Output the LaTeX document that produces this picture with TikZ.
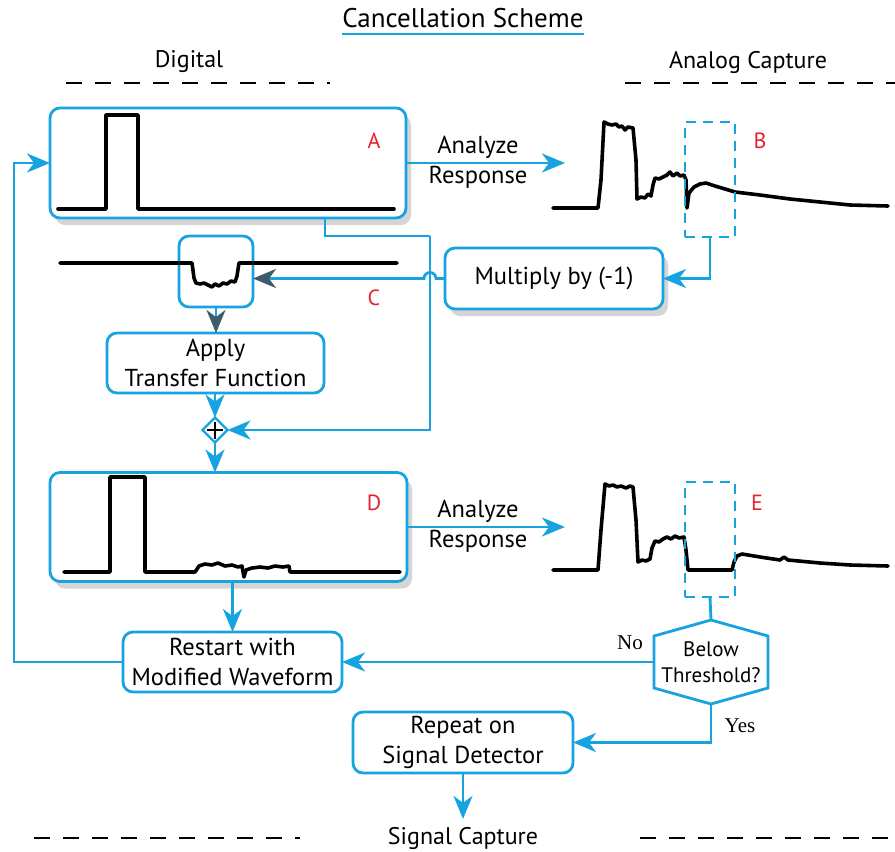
\documentclass[tikz,border=0pt]{standalone}
\usepackage{fontspec}
\setmainfont{PT Sans}
\newfontfamily\notefont{Liberation Serif}
\usetikzlibrary{arrows.meta,shapes.geometric,shadows,calc}
\definecolor{flow}{RGB}{22,163,224}
\definecolor{tag}{RGB}{232,32,44}
\definecolor{darktip}{RGB}{62,92,108}

\begin{document}
\begin{tikzpicture}[x=1pt,y=-1pt,
  every node/.style={inner sep=0pt, outer sep=0pt},
  txt/.style={font=\fontsize{24.5}{30}\selectfont, align=center},
  card/.style={draw=flow, line width=2.8pt, rounded corners=10pt, fill=white},
  shade/.style={drop shadow={opacity=0.33, shadow xshift=5pt, shadow yshift=-7pt}},
  link/.style={draw=flow, line width=2.8pt},
  go/.style={link, -{Stealth[length=23pt,width=19pt,inset=7pt]}},
  godark/.style={link, -{Stealth[length=23pt,width=19pt,inset=7pt,color=darktip]}},
  window/.style={draw=flow, line width=2.4pt, dash pattern=on 10pt off 7pt},
  sep/.style={draw=black, line width=2.2pt, dash pattern=on 16pt off 13pt},
  wave/.style={draw=black, line width=3.6pt, line join=round, line cap=round},
  letter/.style={font=\fontsize{22}{24}\selectfont, text=tag},
  note/.style={font=\notefont\fontsize{21}{22}\selectfont},
]
\useasboundingbox (0,0) rectangle (895,852);

% headings and section separators
\node[font=\fontsize{27}{30}\selectfont] (title) at (463,18) {Cancellation Scheme};
\draw[flow, line width=2.2pt] (342,34) -- (584,34);
\node[font=\fontsize{24}{26}\selectfont] (digital) at (189,62) {Digital};
\node[font=\fontsize{24}{26}\selectfont] (analog) at (748,62) {Analog Capture};
\draw[sep] (66,83) -- (330,83);
\draw[sep] (625,83) -- (895,83);
\node[font=\fontsize{24}{26}\selectfont] (cap) at (463,838) {Signal Capture};
\draw[sep] (34,838) -- (300,838);
\draw[sep] (640,838) -- (895,838);

% digital waveform boxes
\node[card, shade, minimum width=356, minimum height=110] (A) at (228,163) {};
\node[card, shade, minimum width=357, minimum height=109] (D) at (228.5,527) {};
\node[letter] (labA) at (374,141) {A};
\node[letter] (labD) at (374,503) {D};

\draw[wave] (58,209) -- (106,209) -- (106,115) -- (138,115) -- (138,209) -- (394,209);
\draw[wave] (64,572) -- (110,572) -- (110,477) -- (145,477) -- (145,572) -- (195,572)
  -- (199,566) -- (205,564) -- (212,565) -- (218,563) -- (225,566) -- (232,565)
  -- (238,567) -- (242,566) -- (244,577) -- (246,570) -- (252,568) -- (260,567)
  -- (268,568) -- (275,566) -- (283,567) -- (289,566) -- (290,572) -- (400,572);

% correction path
\node[card, shade, minimum width=218, minimum height=61] (mul) at (554,278.5) {};
\node[txt] (multxt) at (mul) {Multiply by (-1)};
\node[card, minimum width=74, minimum height=71] (cbox) at (216,271.5) {};
\node[letter] (labC) at (374,298) {C};
\draw[wave] (60,263) -- (192,263) -- (194,278) -- (196,283) -- (200,284) -- (204,283)
  -- (208,285) -- (212,287) -- (215,284) -- (219,286) -- (223,283) -- (227,284)
  -- (231,281) -- (235,282) -- (237,276) -- (239,263) -- (397,263);
\node[card, minimum width=217, minimum height=60] (apply) at (215.5,363) {};
\node[txt] (applytxt) at (apply) {Apply\\Transfer Function};
\node[draw=flow, line width=2.4pt, fill=white, shape=diamond, minimum size=25pt] (sum) at (215,430) {};
\draw[black, line width=1.8pt] ($(sum.center)+(-8,0)$) -- ($(sum.center)+(8,0)$)
  ($(sum.center)+(0,-8)$) -- ($(sum.center)+(0,9)$);

% analog captures
\node[letter] (labB) at (760,141) {B};
\node[letter] (labE) at (757,503) {E};
\draw[wave] (553,208) -- (598,208) -- (601,180) -- (604,122) -- (608,124) -- (612,125)
  -- (616,124) -- (619,127) -- (622,126) -- (625,130) -- (628,127) -- (633,128)
  -- (636,160) -- (637,199) -- (641,197) -- (645,198) -- (648,194) -- (651,196)
  -- (653,185) -- (655,178) -- (659,179) -- (663,177) -- (667,175) -- (670,172)
  -- (673,176) -- (677,173) -- (680,176) -- (684,175) -- (686,180) -- (687,208)
  -- (689,193) -- (694,187) -- (700,184) -- (706,183) -- (715,186) -- (725,189)
  -- (735,192) -- (760,195) -- (790,199) -- (820,202) -- (850,205) -- (888,206);
\draw[wave] (553,570) -- (598,570) -- (601,530) -- (605,484) -- (609,486) -- (613,485)
  -- (617,487) -- (621,486) -- (626,488) -- (630,486) -- (633,487) -- (636,520)
  -- (638,562) -- (642,560) -- (646,561) -- (650,559) -- (652,548) -- (655,541)
  -- (659,542) -- (663,539) -- (667,537) -- (671,539) -- (675,536) -- (679,538)
  -- (684,537) -- (686,550) -- (688,570) -- (732,570) -- (734,562) -- (737,556)
  -- (742,554) -- (760,557) -- (780,560) -- (784,557) -- (788,560) -- (820,563)
  -- (850,565) -- (888,566);
\node[window, minimum width=50, minimum height=115] (bwin) at (710,179.5) {};
\node[window, minimum width=50, minimum height=115] (ewin) at (710,539.5) {};

% decision and follow-up boxes
\node[minimum width=114, minimum height=84] (thr) at (711,662) {};
\draw[link, fill=white] (thr.north) -- (768,636) -- (768,688) -- (thr.south)
  -- (654,688) -- (654,636) -- cycle;
\node[txt, font=\fontsize{21}{26}\selectfont] (thrtxt) at (thr) {Below\\Threshold?};
\node[card, minimum width=219, minimum height=60] (restart) at (232.5,662) {};
\node[txt] (restarttxt) at (restart) {Restart with\\Modified Waveform};
\node[card, minimum width=220, minimum height=61] (repeat) at (463,742.5) {};
\node[txt] (repeattxt) at (repeat) {Repeat on\\Signal Detector};
\node[note] (no) at (630,643) {No};
\node[note] (yes) at (740,726) {Yes};

% connectors
\coordinate (tipB) at (565,163);
\coordinate (tipE) at (565,527);
\draw[go] (A.east) -- (tipB);
\draw[go] (D.east) -- (tipE);
\node[txt] (an1) at (478,162.5) {Analyze\\Response};
\node[txt] (an2) at (478,526.5) {Analyze\\Response};

\draw[go] (bwin.south) |- (mul.east);
\coordinate (jog) at (325,236);
\coordinate (rail) at (430,236);
\draw[link] (A.south -| jog) -- (jog) -- (rail);
\draw[go] (rail) |- (sum.east);
\draw[godark] (mul.west) -- (436,278.5) arc[start angle=0, end angle=-180, radius=6]
  -- (cbox.east |- mul.west);
\draw[godark] (cbox.south) -- (cbox.south |- apply.north);
\draw[go] (apply.south -| sum.north) -- (sum.north);
\draw[go] (sum.south) -- (sum.south |- D.north);
\draw[go] (restart.north |- D.south) -- (restart.north);

\draw[link] (ewin.south) -- (thr.north);
\draw[go] (thr.west) -- (restart.east);
\draw[go] (restart.west) -- (14,662) |- (A.west);
\draw[go] (thr.south) |- (repeat.east);
\draw[go] (repeat.south) -- ($(cap.north)+(0,-8)$);
\end{tikzpicture}
\end{document}
